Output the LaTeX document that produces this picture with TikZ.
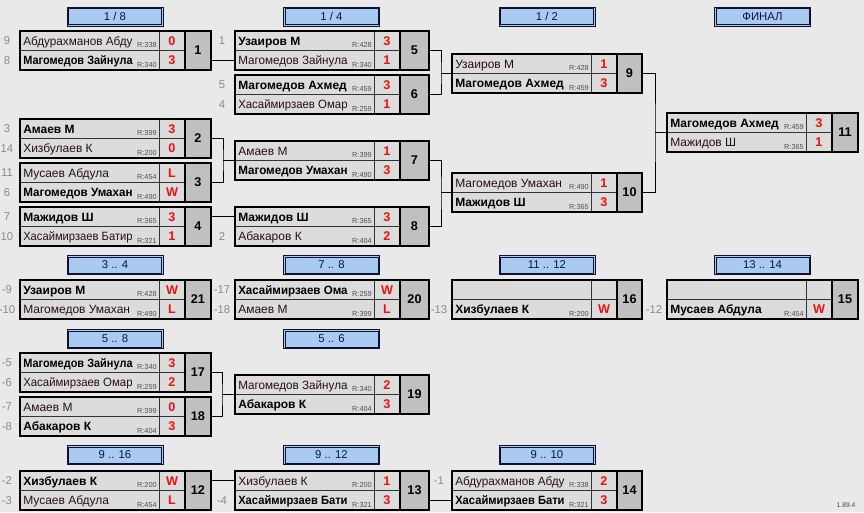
\documentclass[tikz,border=0pt]{standalone}
\usepackage{fontspec}
\usepackage{graphicx}
\setmainfont{Liberation Sans}
\definecolor{bgc}{HTML}{E9E9E9}
\definecolor{cellc}{HTML}{DCDCDC}
\definecolor{numc}{HTML}{C0C0C0}
\definecolor{hdrc}{HTML}{A9CBF2}
\definecolor{hdrl}{HTML}{101030}
\definecolor{hdrt}{HTML}{101040}
\definecolor{losec}{HTML}{2A1010}
\definecolor{ratc}{HTML}{505050}
\definecolor{scorec}{HTML}{F01010}
\definecolor{seedc}{HTML}{8A8A8A}
\newsavebox\namebx
\newcommand\fitname[1]{%
 \sbox\namebx{#1}%
 \ifdim\wd\namebx>82pt
  \pgfmathsetmacro\fitfac{82/\the\wd\namebx}%
  \scalebox{\fitfac}[1]{\usebox\namebx}%
 \else
  \usebox\namebx
 \fi}
\tikzset{
 boxline/.style={line width=1.5pt, draw=black},
 innerline/.style={line width=0.6pt, draw=black!80},
 conn/.style={line width=0.75pt, draw=black},
 lname/.style={anchor=base west, inner sep=0pt, font=\fontsize{9}{10}\selectfont, text=losec},
 wname/.style={anchor=base west, inner sep=0pt, font=\fontsize{9}{10}\selectfont\bfseries, text=black},
 rating/.style={anchor=base east, inner sep=0pt, font=\fontsize{5.5}{6}\selectfont, text=ratc},
 score/.style={inner sep=0pt, font=\fontsize{9.5}{10}\selectfont\bfseries, text=scorec},
 mnum/.style={inner sep=0pt, font=\fontsize{9.5}{10}\selectfont\bfseries, text=black},
 seed/.style={inner sep=0pt, font=\fontsize{8.5}{10}\selectfont, text=seedc},
 hdr/.style={draw=hdrl, line width=0.75pt, fill=hdrc, minimum width=72pt, minimum height=14.25pt, inner sep=0pt, font=\fontsize{8.5}{10}\selectfont, text=hdrt},
 ver/.style={inner sep=0pt, font=\fontsize{5}{6}\selectfont, text=black!75},
}
% match box: id, x, y, width
\newcommand\mt[4]{%
 \coordinate (m#1-nw) at (#2,#3);
 \coordinate (m#1-w) at (#2,{#3+19.5});
 \coordinate (m#1-w1) at (#2,{#3+9.75});
 \coordinate (m#1-w2) at (#2,{#3+29.25});
 \coordinate (m#1-e) at ({#2+#4},{#3+19.5});
 \coordinate (m#1-e1) at ({#2+#4},{#3+9.75});
 \coordinate (m#1-e2) at ({#2+#4},{#3+29.25});
 \fill[cellc] (#2,#3) rectangle ({#2+165},{#3+39});
 \fill[numc] ({#2+165},#3) rectangle ({#2+#4},{#3+39});
 \draw[innerline] (#2,{#3+19.5}) -- ({#2+165},{#3+19.5});
 \draw[innerline] ({#2+139},#3) -- ({#2+139},{#3+39});
 \draw[boxline] ({#2+165},#3) -- ({#2+165},{#3+39});
 \draw[boxline] (#2,#3) rectangle ({#2+#4},{#3+39});
 \node[mnum] (m#1) at ({#2+(165+#4)/2},{#3+19.5}) {#1};
}
% player row: id, row, style, name, rating, score
\newcommand\pl[6]{%
 \node[#3] (n#1r#2) at ([shift={(3,{#2*19.5-5.2})}]m#1-nw) {\fitname{#4}};
 \node[rating] (r#1r#2) at ([shift={(137,{#2*19.5-3})}]m#1-nw) {#5};
 \node[score] (s#1r#2) at ([shift={(152,{#2*19.5-9.75})}]m#1-nw) {#6};
}
% seed: id, row, text
\newcommand\sd[3]{%
 \node[seed] (d#1r#2) at ([shift={(-13,0)}]m#1-w#2) {#3};
}
% header: id, centre x, centre y, text
\newcommand\hd[4]{%
 \node[hdr] (h#1) at (#2,#3) {#4};
 \draw[draw=hdrl, line width=0.75pt] ([shift={(2,2)}]h#1.north west) rectangle ([shift={(-2,-2)}]h#1.south east);
}
\begin{document}
\begin{tikzpicture}[x=0.75pt,y=-0.75pt]
\fill[bgc] (0,0) rectangle (864,512);
\useasboundingbox (0,0) rectangle (864,512);

% headers
\hd{a}{115}{16.5}{1 / 8}
\hd{b}{331.5}{16.5}{1 / 4}
\hd{c}{547}{16.5}{1 / 2}
\hd{d}{762.5}{16.5}{ФИНАЛ}
\hd{e}{115}{265}{3 .. 4}
\hd{f}{331.5}{265}{7 .. 8}
\hd{g}{547}{265}{11 .. 12}
\hd{h}{762.5}{265}{13 .. 14}
\hd{i}{115}{339}{5 .. 8}
\hd{j}{331.5}{339}{5 .. 6}
\hd{k}{115}{455}{9 .. 16}
\hd{l}{331.5}{455}{9 .. 12}
\hd{m}{547}{455}{9 .. 10}

% matches
\mt{1}{20}{31}{191}
\pl{1}{1}{lname}{Абдурахманов Абду}{R:338}{0}
\pl{1}{2}{wname}{Магомедов Зайнула}{R:340}{3}
\sd{1}{1}{9}\sd{1}{2}{8}

\mt{2}{20}{119}{191}
\pl{2}{1}{wname}{Амаев М}{R:399}{3}
\pl{2}{2}{lname}{Хизбулаев К}{R:200}{0}
\sd{2}{1}{3}\sd{2}{2}{14}

\mt{3}{20}{163}{191}
\pl{3}{1}{lname}{Мусаев Абдула}{R:454}{L}
\pl{3}{2}{wname}{Магомедов Умахан}{R:490}{W}
\sd{3}{1}{11}\sd{3}{2}{6}

\mt{4}{20}{207}{191}
\pl{4}{1}{wname}{Мажидов Ш}{R:365}{3}
\pl{4}{2}{lname}{Хасаймирзаев Батир}{R:321}{1}
\sd{4}{1}{7}\sd{4}{2}{10}

\mt{5}{235}{31}{194}
\pl{5}{1}{wname}{Узаиров М}{R:428}{3}
\pl{5}{2}{lname}{Магомедов Зайнула}{R:340}{1}
\sd{5}{1}{1}

\mt{6}{235}{75}{194}
\pl{6}{1}{wname}{Магомедов Ахмед}{R:459}{3}
\pl{6}{2}{lname}{Хасаймирзаев Омар}{R:259}{1}
\sd{6}{1}{5}\sd{6}{2}{4}

\mt{7}{235}{141}{194}
\pl{7}{1}{lname}{Амаев М}{R:399}{1}
\pl{7}{2}{wname}{Магомедов Умахан}{R:490}{3}

\mt{8}{235}{207}{194}
\pl{8}{1}{wname}{Мажидов Ш}{R:365}{3}
\pl{8}{2}{lname}{Абакаров К}{R:404}{2}
\sd{8}{2}{2}

\mt{9}{452}{54}{190}
\pl{9}{1}{lname}{Узаиров М}{R:428}{1}
\pl{9}{2}{wname}{Магомедов Ахмед}{R:459}{3}

\mt{10}{452}{173}{190}
\pl{10}{1}{lname}{Магомедов Умахан}{R:490}{1}
\pl{10}{2}{wname}{Мажидов Ш}{R:365}{3}

\mt{11}{667}{113}{191}
\pl{11}{1}{wname}{Магомедов Ахмед}{R:459}{3}
\pl{11}{2}{lname}{Мажидов Ш}{R:365}{1}

\mt{21}{20}{280}{191}
\pl{21}{1}{wname}{Узаиров М}{R:428}{W}
\pl{21}{2}{lname}{Магомедов Умахан}{R:490}{L}
\sd{21}{1}{-9}\sd{21}{2}{-10}

\mt{20}{235}{280}{194}
\pl{20}{1}{wname}{Хасаймирзаев Ома}{R:259}{W}
\pl{20}{2}{lname}{Амаев М}{R:399}{L}
\sd{20}{1}{-17}\sd{20}{2}{-18}

\mt{16}{452}{280}{190}
\pl{16}{2}{wname}{Хизбулаев К}{R:200}{W}
\sd{16}{2}{-13}

\mt{15}{667}{280}{191}
\pl{15}{2}{wname}{Мусаев Абдула}{R:454}{W}
\sd{15}{2}{-12}

\mt{17}{20}{353}{191}
\pl{17}{1}{wname}{Магомедов Зайнула}{R:340}{3}
\pl{17}{2}{lname}{Хасаймирзаев Омар}{R:259}{2}
\sd{17}{1}{-5}\sd{17}{2}{-6}

\mt{18}{20}{397}{191}
\pl{18}{1}{lname}{Амаев М}{R:399}{0}
\pl{18}{2}{wname}{Абакаров К}{R:404}{3}
\sd{18}{1}{-7}\sd{18}{2}{-8}

\mt{19}{235}{375}{194}
\pl{19}{1}{lname}{Магомедов Зайнула}{R:340}{2}
\pl{19}{2}{wname}{Абакаров К}{R:404}{3}

\mt{12}{20}{471}{191}
\pl{12}{1}{wname}{Хизбулаев К}{R:200}{W}
\pl{12}{2}{lname}{Мусаев Абдула}{R:454}{L}
\sd{12}{1}{-2}\sd{12}{2}{-3}

\mt{13}{235}{471}{194}
\pl{13}{1}{lname}{Хизбулаев К}{R:200}{1}
\pl{13}{2}{wname}{Хасаймирзаев Бати}{R:321}{3}
\sd{13}{2}{-4}

\mt{14}{452}{471}{190}
\pl{14}{1}{lname}{Абдурахманов Абду}{R:338}{2}
\pl{14}{2}{wname}{Хасаймирзаев Бати}{R:321}{3}
\sd{14}{1}{-1}

% connectors
\draw[conn] (m1-e2) -- (m5-w2);
\path (m7-w) ++(-12,0) coordinate (j7);
\draw[conn] (m2-e) -| (j7) |- (m3-e);
\draw[conn] (j7) -- (m7-w);
\draw[conn] (m4-e1) -- (m8-w1);
\path (m9-w) ++(-11,0) coordinate (j9);
\draw[conn] (m5-e) -| (j9) |- (m6-e);
\draw[conn] (j9) -- (m9-w);
\path (m10-w) ++(-11,0) coordinate (j10);
\draw[conn] (m7-e) -| (j10) |- (m8-e);
\draw[conn] (j10) -- (m10-w);
\path (m11-w) ++(-12,0) coordinate (j11);
\draw[conn] (m9-e) -| (j11) |- (m10-e);
\draw[conn] (j11) -- (m11-w);
\path (m19-w) ++(-13,0) coordinate (j19);
\draw[conn] (m17-e) -| (j19) |- (m18-e);
\draw[conn] (j19) -- (m19-w);
\draw[conn] (m12-e1) -- (m13-w1);
\draw[conn] (m13-e2) -- (m14-w2);

\node[ver] (ver) at (846,505) {1.89.4};
\end{tikzpicture}
\end{document}
